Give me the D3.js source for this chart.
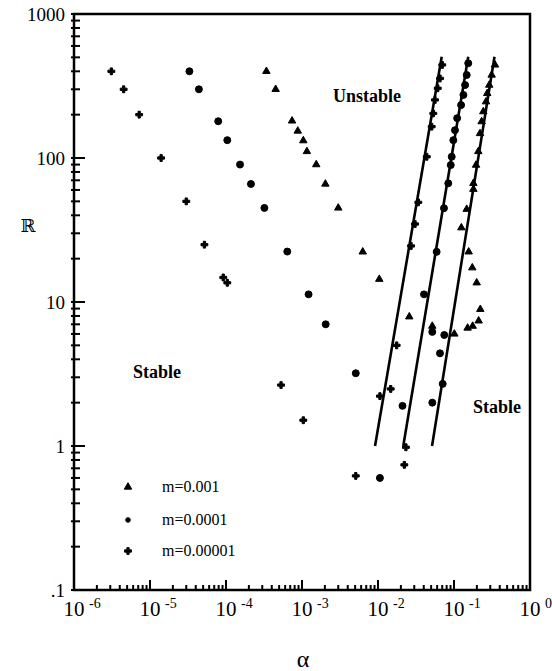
<!DOCTYPE html>
<html>
<head>
<meta charset="utf-8">
<script src="https://cdn.jsdelivr.net/npm/d3@7"></script>
<style>
body { margin: 0; background: #fff; }
text { font-family: "Liberation Serif", "Times New Roman", serif; fill: #000; }
</style>
</head>
<body>
<svg id="chart" width="552" height="671"></svg>
<script>
// [alpha, R]
var triData = [
    [3.4e-4, 400], [4.5e-4, 300], [7.4e-4, 181], [8.8e-4, 154], [1.04e-3, 132],
    [1.16e-3, 111], [1.54e-3, 90], [2.03e-3, 66], [3.0e-3, 45], [6.3e-3, 22.3],
    [0.0104, 14.4], [0.0258, 7.9], [0.0518, 6.8], [0.101, 6.0], [0.151, 6.6],
    [0.176, 6.8], [0.211, 7.4], [0.222, 8.9], [0.199, 13.6], [0.174, 17.3],
    [0.156, 22.3], [0.125, 32.8], [0.147, 44.1], [0.180, 60.7], [0.180, 66.7],
    [0.195, 89.3], [0.209, 111], [0.220, 148], [0.231, 179], [0.243, 210],
    [0.264, 246], [0.274, 281], [0.291, 321], [0.313, 377], [0.346, 443]
];
var circData = [
    [3.3e-5, 400], [4.4e-5, 300], [7.9e-5, 180], [1.04e-4, 133], [1.53e-4, 90],
    [2.13e-4, 66], [3.2e-4, 45], [6.4e-4, 22.4], [1.22e-3, 11.3], [2.05e-3, 7.0],
    [5.1e-3, 3.2], [0.0106, 0.6], [0.021, 1.9], [0.0518, 2.0], [0.0710, 2.7],
    [0.0654, 4.4], [0.0745, 5.9], [0.0518, 6.2], [0.0403, 11.3], [0.0591, 22.3],
    [0.0738, 44.8], [0.0841, 66.7], [0.0906, 89.3], [0.0933, 102], [0.098, 133],
    [0.103, 156], [0.110, 189], [0.124, 233], [0.133, 274], [0.140, 321],
    [0.147, 377], [0.154, 455]
];
var plusData = [
    [3.1e-6, 400], [4.5e-6, 300], [7.2e-6, 200], [1.4e-5, 100], [3.0e-5, 50],
    [5.2e-5, 25], [9.2e-5, 14.8], [1.04e-4, 13.6], [5.3e-4, 2.65], [1.04e-3, 1.51],
    [5.1e-3, 0.62], [0.0106, 2.22], [0.0147, 2.49], [0.0176, 5.0], [0.0222, 0.74],
    [0.0233, 0.98], [0.0272, 24.5], [0.0307, 34.8], [0.0339, 49.2], [0.0438, 102],
    [0.0509, 165], [0.0534, 204], [0.0562, 253], [0.0611, 305], [0.0655, 357],
    [0.0701, 443]
];
// straight boundary lines (end points)
var fitLines = [
    [[0.00914, 1.0], [0.0689, 505]],
    [[0.0215, 1.0], [0.154, 505]],
    [[0.0514, 1.0], [0.341, 505]]
];
var legendLabels = ['m=0.001', 'm=0.0001', 'm=0.00001'];
var yTickLabels = ['.1', '1', '10', '100', '1000'];
var xExponents = ['-6', '-5', '-4', '-3', '-2', '-1', '0'];

var svg = d3.select('#chart');
var x = d3.scaleLog().domain([1e-6, 1]).range([74, 530]);
var y = d3.scaleLog().domain([0.1, 1000]).range([590, 14]);

// decade ticks 1..9 x 10^k, flagged major at 1
function decadeTicks(lo, hi) {
    var out = [];
    for (var k = lo; k < hi; k++) {
        for (var m = 1; m <= 9; m++) out.push({ v: m * Math.pow(10, k), major: m === 1 });
    }
    out.push({ v: Math.pow(10, hi), major: true });
    return out;
}
var xTicks = decadeTicks(-6, 0);
var yTicks = decadeTicks(-1, 3);

// frame
svg.append('rect')
    .attr('x', 74).attr('y', 14).attr('width', 456).attr('height', 576)
    .attr('fill', 'none').attr('stroke', '#000').attr('stroke-width', 2.5);

// ticks pointing into the plot
var tickG = svg.append('g').attr('class', 'ticks');
tickG.selectAll('line.xt').data(xTicks).enter().append('line')
    .attr('class', 'xt')
    .attr('x1', function(d) { return x(d.v); })
    .attr('x2', function(d) { return x(d.v); })
    .attr('y1', 591)
    .attr('y2', function(d) { return d.major ? 580 : 585; })
    .attr('stroke', '#000').attr('stroke-width', 2);
tickG.selectAll('line.yt').data(yTicks).enter().append('line')
    .attr('class', 'yt')
    .attr('x1', 71)
    .attr('x2', function(d) { return d.major ? 85 : 80; })
    .attr('y1', function(d) { return y(d.v); })
    .attr('y2', function(d) { return y(d.v); })
    .attr('stroke', '#000').attr('stroke-width', 2);

// y labels
svg.selectAll('text.ylab').data(yTickLabels).enter().append('text')
    .attr('class', 'ylab')
    .attr('x', 65)
    .attr('y', function(d) { return y(+d) + 7; })
    .attr('text-anchor', 'end')
    .style('font-size', '19px')
    .text(function(d) { return d; });

// x labels 10^n
var xl = svg.selectAll('g.xlab').data(xExponents).enter().append('g')
    .attr('class', 'xlab')
    .attr('transform', function(d) { return 'translate(' + x(Math.pow(10, +d)) + ',0)'; });
xl.append('text').attr('x', 0).attr('y', 616)
    .attr('text-anchor', 'middle').style('font-size', '21px').text('10');
xl.append('text').attr('x', 15).attr('y', 608)
    .style('font-size', '14px').text(function(d) { return d; });

// axis titles
svg.append('text').attr('x', 303).attr('y', 667).attr('text-anchor', 'middle')
    .style('font-size', '24px').text('\u03b1');
svg.append('text').attr('x', 28).attr('y', 232).attr('text-anchor', 'middle')
    .style('font-family', '"DejaVu Serif", serif').style('font-size', '18px').text('\u211d');

// boundary lines
var lineGen = d3.line().x(function(d) { return x(d[0]); }).y(function(d) { return y(d[1]); });
svg.selectAll('path.fit').data(fitLines).enter().append('path')
    .attr('class', 'fit')
    .attr('d', lineGen)
    .attr('fill', 'none').attr('stroke', '#000').attr('stroke-width', 2.6);

var triSym = d3.symbol().type(d3.symbolTriangle).size(24)();
var circSym = d3.symbol().type(d3.symbolCircle).size(38)();
var plusSym = d3.symbol().type(d3.symbolCross).size(26)();

function markers(data, sym, cls) {
    svg.selectAll('path.' + cls).data(data).enter().append('path')
        .attr('class', cls)
        .attr('d', sym)
        .attr('transform', function(d) { return 'translate(' + x(d[0]) + ',' + y(d[1]) + ')'; })
        .attr('fill', '#000').attr('stroke', '#000')
        .attr('stroke-width', 1).attr('stroke-linejoin', 'round');
}
markers(triData, triSym, 'tri');
markers(circData, circSym, 'circ');
markers(plusData, plusSym, 'plus');

// region labels
svg.append('text').attr('x', 333).attr('y', 102).style('font-size', '18px')
    .style('font-weight', 'bold').text('Unstable');
svg.append('text').attr('x', 133).attr('y', 378).style('font-size', '18px')
    .style('font-weight', 'bold').text('Stable');
svg.append('text').attr('x', 473).attr('y', 413).style('font-size', '18px')
    .style('font-weight', 'bold').text('Stable');

// legend
var legSyms = [triSym, circSym, plusSym];
var leg = svg.selectAll('g.leg').data(legendLabels).enter().append('g')
    .attr('class', 'leg')
    .attr('transform', function(d, i) { return 'translate(128,' + [487, 520, 551][i] + ')'; });
leg.append('path')
    .attr('d', function(d, i) { return legSyms[i]; })
    .attr('transform', function(d, i) { return i === 1 ? 'scale(0.7)' : null; })
    .attr('fill', '#000').attr('stroke', '#000').attr('stroke-width', 1);
leg.append('text').attr('x', 34).attr('y', 5)
    .style('font-size', '16px').text(function(d) { return d; });
</script>
</body>
</html>
